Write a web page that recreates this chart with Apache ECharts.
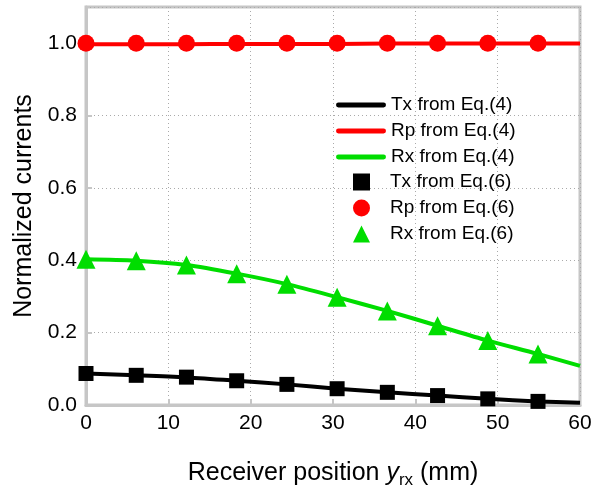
<!DOCTYPE html>
<html><head><meta charset="utf-8">
<script src="https://cdn.jsdelivr.net/npm/echarts@6/dist/echarts.min.js"></script>
<style>html,body{margin:0;padding:0;background:#fff}#c{width:608px;height:485px}</style>
</head><body><div id="c"></div>
<script>
// Data
const xPts = [0, 6.1, 12.2, 18.3, 24.4, 30.5, 36.6, 42.7, 48.8, 54.9];
const xLine = [0, 6.1, 12.2, 18.3, 24.4, 30.5, 36.6, 42.7, 48.8, 54.9, 60];
const txEq4 = [0.087, 0.082, 0.076, 0.067, 0.057, 0.045, 0.035, 0.026, 0.017, 0.010, 0.006];
const rpEq4 = [0.997, 0.997, 0.997, 0.998, 0.998, 0.998, 0.999, 0.999, 0.999, 0.999, 0.999];
const rxEq4 = [0.403, 0.399, 0.387, 0.363, 0.334, 0.298, 0.260, 0.219, 0.178, 0.141, 0.108];
const txEq6 = [0.087, 0.082, 0.077, 0.067, 0.057, 0.045, 0.035, 0.026, 0.017, 0.010];
const rpEq6 = [1.0, 1.0, 1.0, 1.0, 1.0, 1.0, 1.0, 1.0, 1.0, 1.0];
const rxEq6 = [0.403, 0.399, 0.387, 0.363, 0.334, 0.298, 0.260, 0.219, 0.178, 0.141];
const lineNames = ['Tx from Eq.(4)', 'Rp from Eq.(4)', 'Rx from Eq.(4)'];
const markNames = ['Tx from Eq.(6)', 'Rp from Eq.(6)', 'Rx from Eq.(6)'];

const pair = (xs, ys) => xs.map((x, i) => [x, ys[i]]);
const FONT = 'Liberation Sans, Arial, sans-serif';
const GREY = '#c6c6c6';
const BLACK = '#000000', RED = '#ff0000', GREEN = '#00dd00';

const chart = echarts.init(document.getElementById('c'));
const lineS = (name, data, color) => ({
  name, type: 'line', data, smooth: 0.3, showSymbol: false, symbol: 'none',
  lineStyle: { color, width: 4 }, itemStyle: { color }, z: 2
});
const ptS = (name, data, color, symbol, size) => ({
  name, type: 'scatter', data, symbol, symbolSize: size,
  itemStyle: { color, opacity: 1 }, z: 3
});
const legText = { fontFamily: FONT, fontSize: 19, color: '#000', lineHeight: 20 };
chart.setOption({
  animation: false,
  backgroundColor: '#fff',
  grid: { left: 86, right: 28, top: 7, bottom: 80, show: true, borderColor: GREY, borderWidth: 3,
    containLabel: false, outerBoundsMode: 'none' },
  legend: [{
    orient: 'vertical', left: 336, top: 95, padding: 0, itemWidth: 50, itemHeight: 16, itemGap: 6,
    textStyle: legText,
    data: lineNames.map(n => ({ name: n, icon: 'path://M2,0L48,0A2.5,2.5,0,0,1,48,5L2,5A2.5,2.5,0,0,1,2,0Z' }))
  }, {
    orient: 'vertical', left: 353, top: 172, padding: 0, itemWidth: 17, itemHeight: 17, itemGap: 6,
    textStyle: Object.assign({}, legText, { padding: [0, 0, 0, 15] }),
    data: markNames.map(n => ({ name: n }))
  }],
  xAxis: {
    type: 'value', min: 0, max: 60, interval: 10,
    name: '{n|Receiver position }{i|y}{s|rx}{n| (mm)}', nameLocation: 'middle', nameGap: 52,
    nameTextStyle: {
      rich: {
        n: { fontFamily: FONT, fontSize: 25, color: '#000' },
        i: { fontFamily: FONT, fontSize: 25, fontStyle: 'italic', color: '#000' },
        s: { fontFamily: FONT, fontSize: 17, color: '#000', verticalAlign: 'bottom', padding: [15, 0, 0, 0] }
      }
    },
    axisLine: { lineStyle: { color: GREY, width: 3 } },
    axisTick: { inside: true, length: 6, lineStyle: { color: GREY, width: 2 } },
    axisLabel: { fontFamily: FONT, fontSize: 21, color: '#000', margin: 8 },
    splitLine: { show: true, lineStyle: { color: '#aaa', type: [1, 3], width: 1 } }
  },
  yAxis: {
    type: 'value', min: 0, max: 1.1, interval: 0.2,
    name: 'Normalized currents', nameLocation: 'middle', nameGap: 49,
    nameTextStyle: { fontFamily: FONT, fontSize: 25, color: '#000' },
    axisLine: { lineStyle: { color: GREY, width: 3 } },
    axisTick: { inside: true, length: 6, lineStyle: { color: GREY, width: 2 } },
    axisLabel: { fontFamily: FONT, fontSize: 21, color: '#000', margin: 9, showMaxLabel: false,
      formatter: v => (Math.abs(v * 5 - Math.round(v * 5)) < 1e-6 ? v.toFixed(1) : '') },
    splitLine: { show: true, lineStyle: { color: '#aaa', type: [1, 3], width: 1 } }
  },
  series: [
    lineS(lineNames[0], pair(xLine, txEq4), BLACK),
    lineS(lineNames[1], pair(xLine, rpEq4), RED),
    lineS(lineNames[2], pair(xLine, rxEq4), GREEN),
    ptS(markNames[0], pair(xPts, txEq6), BLACK, 'rect', 15),
    ptS(markNames[1], pair(xPts, rpEq6), RED, 'circle', 17),
    ptS(markNames[2], pair(xPts, rxEq6), GREEN, 'triangle', 19)
  ]
});
</script></body></html>
